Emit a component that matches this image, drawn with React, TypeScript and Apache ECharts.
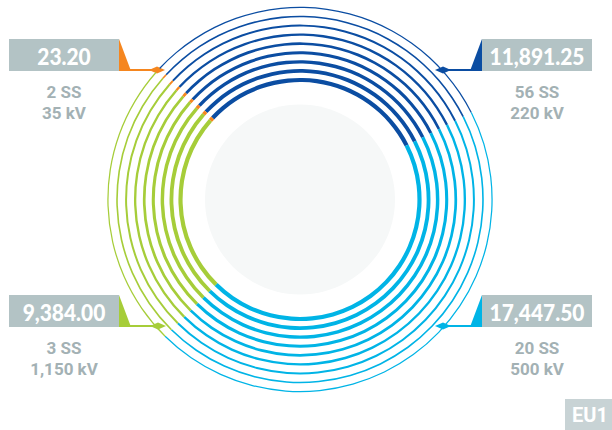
import React, { useEffect, useRef } from "react";
import * as echarts from "echarts";

// ---- data ----
const categories = ["220 kV", "500 kV", "1,150 kV", "35 kV"];
const values = [11891.25, 17447.5, 9384.0, 23.2];
const substations = ["56 SS", "20 SS", "3 SS", "2 SS"];
const colors = ["#0b4da2", "#00b4e6", "#a6cd39", "#f5861f"];
const badgeText = "EU1";

// ---- layout ----
const CX = 300;
const CY = 199.5;
const RING_COUNT = 9;
const RING_R0 = 119.5;
const RING_STEP = 9.07;
const RING_W0 = 4.2;
const RING_WSTEP = 0.37;

// callout placement per category: side (left/right) and box top
const callouts = [
  { side: "right", top: 39, dx: 443 },
  { side: "right", top: 295, dx: 443 },
  { side: "left", top: 295, dx: 158 },
  { side: "left", top: 39, dx: 157 },
];

const BOX_GRAY = "#b3c3c5";
const SUB_GRAY = "#a3b1b4";
const NUM_FONT = "Lato, 'Open Sans', sans-serif";
const SUB_FONT = "Roboto, 'Open Sans', sans-serif";

function fmt(v: number) {
  return v.toLocaleString("en-US", { minimumFractionDigits: 2, maximumFractionDigits: 2 });
}

export default function App() {
  const ref = useRef<HTMLDivElement>(null);
  useEffect(() => {
    document.body.style.margin = "0";
    if (!ref.current) return;
    const chart = echarts.init(ref.current, null, { renderer: "svg" });

    const series: any[] = [];
    for (let i = 0; i < RING_COUNT; i++) {
      const r = RING_R0 + i * RING_STEP;
      const w = RING_W0 - i * RING_WSTEP;
      series.push({
        type: "pie",
        center: [CX, CY],
        radius: [r - w / 2, r + w / 2],
        startAngle: 137,
        clockwise: true,
        minAngle: 1.5,
        silent: true,
        avoidLabelOverlap: false,
        label: { show: false },
        labelLine: { show: false },
        emphasis: { disabled: true },
        itemStyle: { borderWidth: 0 },
        data: values.map((v, k) => ({
          value: v,
          name: categories[k],
          itemStyle: { color: colors[k] },
        })),
      });
    }

    const graphics: any[] = [
      {
        type: "circle",
        z: -1,
        shape: { cx: CX, cy: CY, r: 95 },
        style: { fill: "#f6f8f8" },
      },
    ];

    callouts.forEach((c, k) => {
      const left = c.side === "left";
      const bx = left ? 9 : 482;
      const by = c.top;
      const bw = 110;
      const bh = 32;
      const col = colors[k];
      const lineY = by + 31;
      graphics.push({
        type: "rect",
        shape: { x: bx, y: by, width: bw, height: bh },
        style: { fill: BOX_GRAY },
      });
      const tx = left ? bx + bw : bx;
      const tip = left ? tx + 12 : tx - 12;
      graphics.push({
        type: "polygon",
        shape: { points: [[tx, by], [tip, lineY + 1], [tx, by + bh]] },
        style: { fill: col },
      });
      graphics.push({
        type: "line",
        shape: { x1: tx, y1: lineY, x2: c.dx, y2: lineY },
        style: { stroke: col, lineWidth: 2 },
      });
      graphics.push({
        type: "polygon",
        shape: {
          points: [
            [c.dx - 8, lineY],
            [c.dx, lineY - 3.5],
            [c.dx + 8, lineY],
            [c.dx, lineY + 3.5],
          ],
        },
        style: { fill: col },
      });
      const tcx = bx + bw / 2;
      graphics.push({
        type: "text",
        x: tcx,
        y: by + bh / 2 + 1,
        scaleX: 0.91,
        style: {
          text: fmt(values[k]),
          fill: "#ffffff",
          font: `900 23px ${NUM_FONT}`,
          align: "center",
          verticalAlign: "middle",
        },
      });
      graphics.push({
        type: "text",
        x: tcx,
        y: by + 53,
        style: {
          text: substations[k],
          fill: SUB_GRAY,
          font: `bold 17px ${SUB_FONT}`,
          align: "center",
          verticalAlign: "middle",
        },
      });
      graphics.push({
        type: "text",
        x: tcx,
        y: by + 74,
        style: {
          text: categories[k],
          fill: SUB_GRAY,
          font: `bold 17px ${SUB_FONT}`,
          align: "center",
          verticalAlign: "middle",
        },
      });
    });

    graphics.push({
      type: "rect",
      shape: { x: 565, y: 399, width: 60, height: 40 },
      style: { fill: "#c8d3d5" },
    });
    graphics.push({
      type: "text",
      x: 572,
      y: 415,
      style: {
        text: badgeText,
        fill: "#ffffff",
        font: `bold 20px ${SUB_FONT}`,
        align: "left",
        verticalAlign: "middle",
      },
    });

    chart.setOption({
      animation: false,
      backgroundColor: "#ffffff",
      series,
      graphic: graphics,
    });
    return () => chart.dispose();
  }, []);
  return <div ref={ref} style={{ width: 612, height: 430 }} />;
}
